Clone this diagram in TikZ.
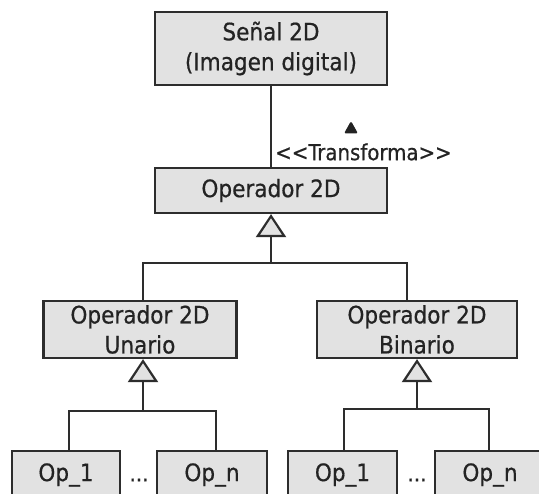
\documentclass[tikz,border=0pt]{standalone}
\usepackage{fontspec}
\setmainfont{DejaVu Sans Condensed}[FakeBold=0.6]
\usetikzlibrary{arrows.meta}
\definecolor{boxgray}{RGB}{226,226,226}
\definecolor{linegray}{RGB}{45,45,45}
\definecolor{txtgray}{RGB}{35,35,35}
\newcommand{\etq}{\fontsize{24}{30}\selectfont}
\newcommand{\etqrel}{\fontsize{22}{26}\selectfont}

\begin{document}
\begin{tikzpicture}[x=1pt,y=-1pt]
    \tikzset{clase/.style={draw=linegray,line width=2.2pt,fill=boxgray,text=txtgray,align=center,font=\etq,inner sep=0pt},
             hereda/.style={draw=linegray,line width=2.2pt,-{Triangle[width=30pt,length=23pt,fill=boxgray,line join=miter]}},
             enlace/.style={draw=linegray,line width=2.2pt}}
    \useasboundingbox (0,0) rectangle (539,494);
    \node[clase,minimum width=232pt,minimum height=73pt] (senal) at (271,48.5) {Señal 2D\\(Imagen digital)};
    \node[clase,minimum width=232pt,minimum height=45pt] (opd) at (271,190.5) {Operador 2D};
    \node[clase,minimum width=193pt,minimum height=57pt] (unario) at (140,329.5) {Operador 2D\\Unario};
    \node[clase,minimum width=200pt,minimum height=57pt] (binario) at (417,329.5) {Operador 2D\\Binario};
    \node[clase,minimum width=108pt,minimum height=48pt] (opua) at (66,475) {Op\_1};
    \node[clase,minimum width=110pt,minimum height=48pt] (opun) at (212,475) {Op\_n};
    \node[clase,minimum width=109pt,minimum height=48pt] (opba) at (342.5,475) {Op\_1};
    \node[clase,minimum width=110pt,minimum height=48pt] (opbn) at (490,475) {Op\_n};
    \node[font=\etqrel,text=txtgray] (pun) at (139,480) {...};
    \node[font=\etqrel,text=txtgray] (pbin) at (417,480) {...};
    % asociacion
    \draw[enlace] (senal) -- (opd);
    \node[font=\etqrel,text=txtgray,anchor=west,inner sep=0pt] (trans) at (275,152) {<\kern0pt<Transforma>\kern0pt>};
    \fill[txtgray,rounded corners=1.5pt] (351,121) -- (358,133.5) -- (344,133.5) -- cycle;
    % herencias
    \coordinate (r1) at (271,263);
    \coordinate (r2) at (143,411);
    \coordinate (r3) at (417,409);
    \draw[hereda] (r1) -- (opd.south);
    \draw[enlace] ([xshift=3pt]unario.north) |- (r1) -| ([xshift=-10pt]binario.north);
    \draw[hereda] (r2) -- ([xshift=3pt]unario.south);
    \draw[enlace] ([xshift=3pt]opua.north) |- (r2) -| ([xshift=4pt]opun.north);
    \draw[hereda] (r3) -- (binario.south);
    \draw[enlace] ([xshift=1.5pt]opba.north) |- (r3) -| ([xshift=-1pt]opbn.north);
\end{tikzpicture}
\end{document}
